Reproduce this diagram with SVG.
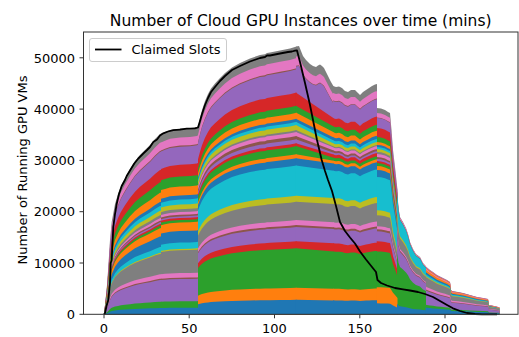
<svg xmlns="http://www.w3.org/2000/svg" width="519" height="337" viewBox="0 0 519 337">
<style>
.c0{fill:#1f77b4}.c1{fill:#ff7f0e}.c2{fill:#2ca02c}.c3{fill:#d62728}.c4{fill:#9467bd}
.c5{fill:#8c564b}.c6{fill:#e377c2}.c7{fill:#7f7f7f}.c8{fill:#bcbd22}.c9{fill:#17becf}
text{font-family:"DejaVu Sans","Liberation Sans",sans-serif;fill:#000}
.tick{stroke:#333;stroke-width:1}
.tl{font-size:13px}
</style>
<defs>
<!-- outer envelope of the stack, one piece per time segment, baseline at y=0 -->
<path id="eA1" d="M104,0 L105.5,-14.3 L107,-29.3 L108.3,-47.3 L110,-74.3 L111.7,-92.3 L115,-110.3 L118,-120.3 L121,-128.3 L125,-136.3 L130,-145.3 L135,-153.3 L140,-159.3 L145,-164.3 L150,-169.3 L155,-175.3 L160,-180.3 L161.5,-180.8 L161.5,0 Z"/>
<path id="eA2" d="M161,0 L161,-180.5 L165,-182.3 L170,-184.3 L180,-185.8 L190,-186.3 L197,-187.3 L198.5,-188.5 L198.5,0 Z"/>
<path id="eB" d="M198,0 L198,-187.3 L200,-196.3 L202,-204.3 L205,-213.3 L208,-220.3 L211,-225.8 L215,-230.8 L220,-236.3 L225,-241.3 L232,-246.8 L240,-251.3 L250,-255.8 L260,-259.3 L265,-260 L267,-261.3 L270,-261.8 L280,-263.8 L290,-265.8 L296.5,-267.8 L296.5,0 Z"/>
<path id="eC1" d="M296,0 L296,-267.8 L299,-268.3 L301,-263.3 L303,-258.3 L306,-254.3 L310,-250.3 L313,-248.3 L316,-247.3 L318,-248.8 L320,-249.8 L322,-248.3 L324,-246.3 L326,-242.3 L328,-238.3 L331,-232.3 L333.5,-228 L333.5,0 Z"/>
<path id="eC2" d="M333,0 L333,-228.3 L336,-227.3 L339,-227.8 L342,-226.3 L345,-223.3 L348,-222.3 L351,-224.3 L355,-224.3 L358,-221.3 L360,-219.3 L363,-222.3 L366,-224.3 L369,-226.3 L372,-228.3 L375,-229.8 L377,-230.3 L377,0 Z"/>
<path id="eD1" d="M376.7,0 L376.7,-206.3 L381,-205.8 L385,-204.3 L388,-202.3 L390,-201.3 L391.5,-184.3 L393,-164.3 L395,-147.3 L397.5,-124.3 L397.5,0 Z"/>
<path id="eD2" d="M397,0 L397,-126.3 L398.5,-106.3 L400,-97.3 L403,-92.3 L406,-86.3 L408,-80.3 L410,-72.3 L413,-65.3 L416,-60.3 L420,-57.3 L423,-51.3 L426,-48 L426,0 Z"/>
<path id="eD3" d="M425.5,0 L425.5,-48.3 L427,-46.8 L430,-44.3 L433,-42.3 L437,-39.3 L441,-37.3 L445,-35.3 L447,-34.3 L450,-32.3 L451,-24.5 L452,-23.3 L458,-22.3 L463,-21.3 L470,-19.3 L477,-17.3 L483,-16.3 L488,-15.3 L489,-9.3 L494,-8.3 L498,-7.3 L499.3,-7 L499.3,0 Z"/>
</defs>

<rect width="519" height="337" fill="#fff"/>

<!-- stacked areas, painted from the top series down to the bottom one -->
<g id="stack" transform="translate(0 314.3)">
 <g class="c7"><use href="#eA1"/><use href="#eA2"/><use href="#eB"/><use href="#eC1"/><use href="#eC2"/><use href="#eD1"/><use href="#eD2"/><use href="#eD3"/></g>
 <g class="c6"><use href="#eA1" transform="scale(1 .952)"/><use href="#eA2" transform="scale(1 .952)"/><use href="#eB" transform="scale(1 .957)"/><use href="#eC1" transform="scale(1 .963)"/><use href="#eC2" transform="scale(1 .969)"/><use href="#eD1" transform="scale(1 .976)"/><use href="#eD2" transform="scale(1 .993)"/><use href="#eD3" transform="scale(1 .993)"/></g>
 <g class="c5"><use href="#eA1" transform="scale(1 .906)"/><use href="#eA2" transform="scale(1 .908)"/><use href="#eB" transform="scale(1 .919)"/><use href="#eC1" transform="scale(1 .928)"/><use href="#eC2" transform="scale(1 .937)"/><use href="#eD1" transform="scale(1 .954)"/></g>
 <g class="c4"><use href="#eA1" transform="scale(1 .9)"/><use href="#eA2" transform="scale(1 .902)"/><use href="#eB" transform="scale(1 .915)"/><use href="#eC1" transform="scale(1 .925)"/><use href="#eC2" transform="scale(1 .934)"/><use href="#eD1" transform="scale(1 .952)"/><use href="#eD3" transform="scale(1 .985)"/></g>
 <g class="c3"><use href="#eA1" transform="scale(1 .8)"/><use href="#eA2" transform="scale(1 .805)"/><use href="#eB" transform="scale(1 .828)"/><polygon points="295.8,0 295.8,-221.7 333.7,-196.1 333.7,0"/><use href="#eC2" transform="scale(1 .859)"/><use href="#eD1" transform="scale(1 .903)"/></g>
 <g class="c2"><use href="#eA1" transform="scale(1 .732)"/><use href="#eA2" transform="scale(1 .742)"/><use href="#eB" transform="scale(1 .779)"/><polygon points="295.8,0 295.8,-208.6 333.7,-187.9 333.7,0"/><use href="#eC2" transform="scale(1 .823)"/><use href="#eD1" transform="scale(1 .859)"/></g>
 <g class="c1"><use href="#eA1" transform="scale(1 .674)"/><use href="#eA2" transform="scale(1 .688)"/><use href="#eB" transform="scale(1 .753)"/><polygon points="295.8,0 295.8,-201.7 333.7,-182 333.7,0"/><use href="#eC2" transform="scale(1 .797)"/><use href="#eD1" transform="scale(1 .835)"/><use href="#eD3" transform="scale(1 .975)"/></g>
 <g class="c0"><use href="#eA1" transform="scale(1 .623)"/><use href="#eA2" transform="scale(1 .64)"/><use href="#eB" transform="scale(1 .73)"/><polygon points="295.8,0 295.8,-195.5 333.7,-176.9 333.7,0"/><use href="#eC2" transform="scale(1 .775)"/><use href="#eD1" transform="scale(1 .821)"/></g>
 <g class="c9"><use href="#eA1" transform="scale(1 .601)"/><use href="#eA2" transform="scale(1 .618)"/><use href="#eB" transform="scale(1 .719)"/><polygon points="295.8,0 295.8,-192.5 333.7,-173.7 333.7,0"/><use href="#eC2" transform="scale(1 .761)"/><use href="#eD1" transform="scale(1 .811)"/></g>
 <g class="c8"><use href="#eA1" transform="scale(1 .574)"/><use href="#eA2" transform="scale(1 .591)"/><use href="#eB" transform="scale(1 .707)"/><polygon points="295.8,0 295.8,-189.3 333.7,-170.8 333.7,0"/><use href="#eC2" transform="scale(1 .748)"/><use href="#eD1" transform="scale(1 .801)"/></g>
 <g class="c7"><use href="#eA1" transform="scale(1 .549)"/><use href="#eA2" transform="scale(1 .566)"/><use href="#eB" transform="scale(1 .688)"/><polygon points="295.8,0 295.8,-184.2 333.7,-167.8 333.7,0"/><use href="#eC2" transform="scale(1 .735)"/><use href="#eD1" transform="scale(1 .787)"/></g>
 <g class="c6"><use href="#eA1" transform="scale(1 .533)"/><use href="#eA2" transform="scale(1 .55)"/><use href="#eB" transform="scale(1 .681)"/><polygon points="295.8,0 295.8,-182.4 333.7,-166.7 333.7,0"/><use href="#eC2" transform="scale(1 .73)"/><use href="#eD1" transform="scale(1 .777)"/><use href="#eD2" transform="scale(1 .986)"/><use href="#eD3" transform="scale(1 .955)"/></g>
 <g class="c5"><use href="#eA1" transform="scale(1 .519)"/><use href="#eA2" transform="scale(1 .536)"/><use href="#eB" transform="scale(1 .666)"/><polygon points="295.8,0 295.8,-178.4 333.7,-163.7 333.7,0"/><use href="#eC2" transform="scale(1 .717)"/><use href="#eD1" transform="scale(1 .762)"/></g>
 <g class="c4"><use href="#eA1" transform="scale(1 .51)"/><use href="#eA2" transform="scale(1 .527)"/><use href="#eB" transform="scale(1 .654)"/><polygon points="295.8,0 295.8,-175.1 333.7,-161.6 333.7,0"/><use href="#eC2" transform="scale(1 .708)"/><use href="#eD1" transform="scale(1 .753)"/></g>
 <g class="c3"><use href="#eA1" transform="scale(1 .501)"/><use href="#eA2" transform="scale(1 .518)"/><use href="#eB" transform="scale(1 .639)"/><polygon points="295.8,0 295.8,-171.1 333.7,-159.8 333.7,0"/><use href="#eC2" transform="scale(1 .7)"/><use href="#eD1" transform="scale(1 .743)"/></g>
 <g class="c2"><use href="#eA1" transform="scale(1 .491)"/><use href="#eA2" transform="scale(1 .508)"/><use href="#eB" transform="scale(1 .628)"/><polygon points="295.8,0 295.8,-168.2 333.7,-156.6 333.7,0"/><use href="#eC2" transform="scale(1 .686)"/><use href="#eD1" transform="scale(1 .733)"/></g>
 <g class="c1"><use href="#eA1" transform="scale(1 .477)"/><use href="#eA2" transform="scale(1 .494)"/><use href="#eB" transform="scale(1 .598)"/><polygon points="295.8,0 295.8,-160.1 333.7,-153.6 333.7,0"/><use href="#eC2" transform="scale(1 .673)"/><use href="#eD1" transform="scale(1 .719)"/><use href="#eD2" transform="scale(1 .978)"/><use href="#eD3" transform="scale(1 .93)"/></g>
 <g class="c0"><use href="#eA1" transform="scale(1 .431)"/><use href="#eA2" transform="scale(1 .448)"/><use href="#eB" transform="scale(1 .583)"/><polygon points="295.8,0 295.8,-156.1 333.7,-150.7 333.7,0"/><use href="#eC2" transform="scale(1 .66)"/><use href="#eD1" transform="scale(1 .7)"/><use href="#eD2" transform="scale(1 .972)"/><use href="#eD3" transform="scale(1 .88)"/></g>
 <g class="c9"><use href="#eA1" transform="scale(1 .373)"/><use href="#eA2" transform="scale(1 .386)"/><use href="#eB" transform="scale(1 .556)"/><polygon points="295.8,0 295.8,-148.9 333.7,-143.6 333.7,0"/><use href="#eC2" transform="scale(1 .629)"/><use href="#eD1" transform="scale(1 .666)"/><use href="#eD2" transform="scale(1 .967)"/><use href="#eD3" transform="scale(1 .84)"/></g>
 <g class="c8"><use href="#eA1" transform="scale(1 .341)"/><use href="#eA2" transform="scale(1 .352)"/><use href="#eB" transform="scale(1 .443)"/><polygon points="295.8,0 295.8,-118.6 333.7,-116.2 333.7,0"/><use href="#eC2" transform="scale(1 .509)"/><use href="#eD1" transform="scale(1 .504)"/><use href="#eD2" transform="scale(1 .803)"/><use href="#eD3" transform="scale(1 .8)"/></g>
 <g class="c7"><use href="#eA1" transform="scale(1 .335)"/><use href="#eA2" transform="scale(1 .345)"/><use href="#eB" transform="scale(1 .42)"/><polygon points="295.8,0 295.8,-112.5 333.7,-110.3 333.7,0"/><use href="#eC2" transform="scale(1 .483)"/><use href="#eD1" transform="scale(1 .48)"/><use href="#eD2" transform="scale(1 .781)"/><use href="#eD3" transform="scale(1 .78)"/></g>
 <g class="c6"><use href="#eA1" transform="scale(1 .222)"/><use href="#eA2" transform="scale(1 .222)"/><use href="#eB" transform="scale(1 .352)"/><polygon points="295.8,0 295.8,-94.3 333.7,-92 333.7,0"/><use href="#eC2" transform="scale(1 .403)"/><use href="#eD1" transform="scale(1 .427)"/><use href="#eD2" transform="scale(1 .671)"/><use href="#eD3" transform="scale(1 .58)"/></g>
 <g class="c5"><use href="#eA1" transform="scale(1 .197)"/><use href="#eA2" transform="scale(1 .197)"/><use href="#eB" transform="scale(1 .333)"/><polygon points="295.8,0 295.8,-89.2 333.7,-87 333.7,0"/><use href="#eC2" transform="scale(1 .381)"/><use href="#eD1" transform="scale(1 .412)"/><use href="#eD2" transform="scale(1 .652)"/><use href="#eD3" transform="scale(1 .52)"/></g>
 <g class="c4"><use href="#eA1" transform="scale(1 .19)"/><use href="#eA2" transform="scale(1 .19)"/><use href="#eB" transform="scale(1 .326)"/><polygon points="295.8,0 295.8,-87.3 333.7,-85.2 333.7,0"/><use href="#eC2" transform="scale(1 .373)"/><use href="#eD1" transform="scale(1 .402)"/><use href="#eD2" transform="scale(1 .64)"/><use href="#eD3" transform="scale(1 .5)"/></g>
 <g class="c3"><use href="#eB" transform="scale(1 .273)"/><polygon points="295.8,0 295.8,-73.1 333.7,-71 333.7,0"/><use href="#eC2" transform="scale(1 .311)"/><use href="#eD1" transform="scale(1 .354)"/></g>
 <g class="c2"><use href="#eA1" transform="scale(1 .07)"/><use href="#eA2" transform="scale(1 .07)"/><use href="#eB" transform="scale(1 .247)"/><polygon points="295.8,0 295.8,-66.1 333.7,-62.8 333.7,0"/><use href="#eC2" transform="scale(1 .275)"/><use href="#eD1" transform="scale(1 .305)"/><use href="#eD2" transform="scale(1 .485)"/><use href="#eD3" transform="scale(1 .2)"/></g>
 <g class="c1"><use href="#eB" transform="scale(1 .099)"/><polygon points="295.8,0 295.8,-26.5 333.7,-25.6 333.7,0"/><use href="#eC2" transform="scale(1 .112)"/><use href="#eD1" transform="scale(1 .131)"/></g>
 <g class="c0"><use href="#eA1" transform="scale(1 .035)"/><use href="#eA2" transform="scale(1 .035)"/><use href="#eB" transform="scale(1 .054)"/><polygon points="295.8,0 295.8,-14.5 333.7,-13.9 333.7,0"/><use href="#eC2" transform="scale(1 .061)"/><use href="#eD1" transform="scale(1 .053)"/><use href="#eD2" transform="scale(1 .083)"/><use href="#eD3" transform="scale(1 .14)"/></g>
</g>

<!-- claimed slots line -->
<polyline id="claimed" fill="none" stroke="#000" stroke-width="1.8" stroke-linejoin="round" points="104,314.3 105,313 106.5,306 108.3,300 110,283 110.7,263 111.7,260 112.3,247 113.3,227 115,214 116.7,204 119,194 121.7,186 125,180 126.7,176 130,170.5 134.3,163.5 138.3,158.5 143.3,153.5 147,150 150,147 153.3,142 157,139.5 160,135.5 163.3,133.3 168,131.5 173.3,130.2 180,129.6 186.7,128.6 195,128.3 198,127.5 200,121 202,114 205,105 208,98 211,92 215,87 220,81 225,76 232,70 240,66 250,61.5 260,58 265,57 267,55.5 270,55.5 280,53.5 288,52 292,51.5 295,50.7 297,50.5 300,62 305,83 310,105 313,120 317,140 321.7,160 325,171 328,180 332,191 336,206 340,222 345,231 350,237.5 355,243.5 360,251.5 366,259.5 372,267 376,272 377.5,280 381,283 387,285.5 395,288 403,289.3 410,290.5 418,292 425,294 433,297 440,301 447,305 453,308.3 460,311 467,313 475,314 482,314.3 497,314.3"/>

<!-- axes frame and ticks -->
<g id="axes">
 <rect x="83.5" y="32" width="434.5" height="282.3" fill="none" stroke="#333" stroke-width="1"/>
 <g class="tick">
  <line x1="79.5" y1="314.3" x2="83.5" y2="314.3"/>
  <line x1="79.5" y1="263" x2="83.5" y2="263"/>
  <line x1="79.5" y1="211.7" x2="83.5" y2="211.7"/>
  <line x1="79.5" y1="160.4" x2="83.5" y2="160.4"/>
  <line x1="79.5" y1="109.1" x2="83.5" y2="109.1"/>
  <line x1="79.5" y1="57.8" x2="83.5" y2="57.8"/>
  <line x1="104" y1="314.3" x2="104" y2="318.3"/>
  <line x1="189.2" y1="314.3" x2="189.2" y2="318.3"/>
  <line x1="274.5" y1="314.3" x2="274.5" y2="318.3"/>
  <line x1="359.8" y1="314.3" x2="359.8" y2="318.3"/>
  <line x1="445" y1="314.3" x2="445" y2="318.3"/>
 </g>
 <g class="tl" text-anchor="end">
  <text x="75" y="319">0</text>
  <text x="75" y="267.7">10000</text>
  <text x="75" y="216.4">20000</text>
  <text x="75" y="165.1">30000</text>
  <text x="75" y="113.8">40000</text>
  <text x="75" y="62.5">50000</text>
 </g>
 <g class="tl" text-anchor="middle">
  <text x="104" y="333">0</text>
  <text x="189.2" y="333">50</text>
  <text x="274.5" y="333">100</text>
  <text x="359.8" y="333">150</text>
  <text x="445" y="333">200</text>
 </g>
 <text class="tl" text-anchor="middle" transform="translate(26.5 170) rotate(-90)">Number of Running GPU VMs</text>
 <text x="300.7" y="26" text-anchor="middle" font-size="15.5">Number of Cloud GPU Instances over time (mins)</text>
</g>

<!-- legend -->
<g id="legend">
 <rect x="89.5" y="38.5" width="137" height="23" rx="2.5" fill="#fff" fill-opacity=".8" stroke="#ccc" stroke-width="1"/>
 <line x1="95" y1="49.5" x2="121.5" y2="49.5" stroke="#000" stroke-width="1.8"/>
 <text class="tl" x="131.5" y="54.3">Claimed Slots</text>
</g>
</svg>
